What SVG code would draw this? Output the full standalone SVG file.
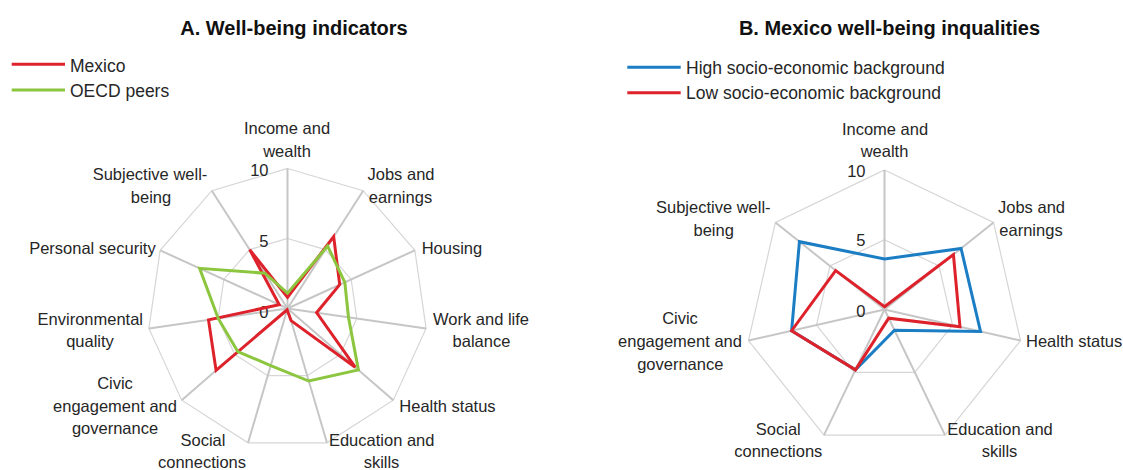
<svg xmlns="http://www.w3.org/2000/svg" width="1123" height="470" viewBox="0 0 1123 470">
<style>
  text { font-family: "Liberation Sans", Arial, sans-serif; fill: #262626; }
  .title { font-size: 20px; font-weight: bold; fill: #111; text-anchor: middle; }
  .lab { font-size: 16.5px; }
  .mid { text-anchor: middle; }
  .end { text-anchor: end; }
  .leg { font-size: 17.5px; }
  .tick { font-size: 16.5px; text-anchor: end; }
  .spoke { stroke: #c6c6c6; stroke-width: 2; fill: none; }
  .ring { stroke: #d6d6d6; stroke-width: 1.2; fill: none; }
  .s { fill: none; stroke-width: 3; stroke-linejoin: miter; }
  .red { stroke: #de222b; }
  .green { stroke: #8cc63f; }
  .blue { stroke: #1b7dc4; }
</style>
<rect width="1123" height="470" fill="#ffffff"/>

<g id="chart-a">
  <text class="title" x="294" y="35">A. Well-being indicators</text>
  <g id="legend-a">
    <line class="s red" x1="11.7" y1="64.3" x2="65" y2="64.3"/>
    <text class="leg" x="70" y="72.3">Mexico</text>
    <line class="s green" x1="11.7" y1="90" x2="65" y2="90"/>
    <text class="leg" x="70" y="96.5">OECD peers</text>
  </g>
  <g id="grid-a">
    <polygon class="ring" points="287.5,168.5 363.19,190.72 414.85,250.34 426.07,328.42 393.31,400.18 326.94,442.83 248.06,442.83 181.69,400.18 148.93,328.42 160.15,250.34 211.81,190.72"/>
    <polygon class="ring" points="287.5,238.5 325.35,249.61 351.17,279.42 356.79,318.46 340.40,354.34 307.22,375.66 267.78,375.66 234.60,354.34 218.21,318.46 223.83,279.42 249.65,249.61"/>
    <path class="spoke" d="M287.5,308.5L287.5,168.5M287.5,308.5L363.19,190.72M287.5,308.5L414.85,250.34M287.5,308.5L426.07,328.42M287.5,308.5L393.31,400.18M287.5,308.5L326.94,442.83M287.5,308.5L248.06,442.83M287.5,308.5L181.69,400.18M287.5,308.5L148.93,328.42M287.5,308.5L160.15,250.34M287.5,308.5L211.81,190.72"/>
  </g>
  <g id="ticks-a">
    <text class="tick" x="268.5" y="175.7">10</text>
    <text class="tick" x="268.5" y="246.7">5</text>
    <text class="tick" x="268.5" y="317.7">0</text>
  </g>
  <g id="series-a">
    <polygon id="mexico" class="s red" points="287.5,297.3 333.67,236.66 339.71,284.65 316.60,312.68 355.22,367.18 291.05,320.59 287.11,309.84 216.08,370.38 208.51,319.86 279.22,304.72 249.66,249.61"/>
    <polygon id="oecd-peers" class="s green" points="287.5,293.1 327.62,246.08 344.81,282.33 348.47,317.27 358.39,369.93 308.80,381.04 270.74,365.59 237.77,351.59 218.21,318.46 199.63,268.37 264.79,273.17"/>
  </g>
  <g id="labels-a" class="lab">
    <text class="lab mid" x="287" y="134">Income and<tspan x="287" dy="22.7">wealth</tspan></text>
    <text class="lab mid" x="401" y="180">Jobs and<tspan x="400.5" dy="22.7">earnings</tspan></text>
    <text class="lab" x="421.7" y="254.3">Housing</text>
    <text class="lab mid" x="481" y="325">Work and life<tspan x="481.5" dy="22">balance</tspan></text>
    <text class="lab" x="399.3" y="411.7">Health status</text>
    <text class="lab mid" x="381.7" y="445.7">Education and<tspan x="381.5" dy="22.6">skills</tspan></text>
    <text class="lab mid" x="203" y="445.7">Social<tspan x="202" dy="22.6">connections</tspan></text>
    <text class="lab mid" x="115" y="388.8">Civic<tspan x="115" dy="22.8">engagement and</tspan><tspan x="115" dy="22.8">governance</tspan></text>
    <text class="lab mid" x="90.3" y="325">Environmental<tspan x="90" dy="22">quality</tspan></text>
    <text class="lab end" x="155.7" y="254.3">Personal security</text>
    <text class="lab mid" x="150" y="180">Subjective well-<tspan x="151" dy="22.7">being</tspan></text>
  </g>
</g>

<g id="chart-b">
  <text class="title" x="889.5" y="35">B. Mexico well-being inqualities</text>
  <g id="legend-b">
    <line class="s blue" x1="627.3" y1="67.3" x2="680.7" y2="67.3"/>
    <text class="leg" x="686" y="74.3">High socio-economic background</text>
    <line class="s red" x1="627.3" y1="92.7" x2="680.7" y2="92.7"/>
    <text class="leg" x="686" y="99.3">Low socio-economic background</text>
  </g>
  <g id="grid-b">
    <polygon class="ring" points="884.5,170 993.57,222.52 1020.5,340.54 945.03,435.19 823.97,435.19 748.5,340.54 775.43,222.52"/>
    <polygon class="ring" points="884.5,239.75 939.03,266.01 952.5,325.02 914.76,372.34 854.24,372.34 816.5,325.02 829.97,266.01"/>
    <path class="spoke" d="M884.5,309.5L884.5,170M884.5,309.5L993.57,222.52M884.5,309.5L1020.5,340.54M884.5,309.5L945.03,435.19M884.5,309.5L823.97,435.19M884.5,309.5L748.5,340.54M884.5,309.5L775.43,222.52"/>
  </g>
  <g id="ticks-b">
    <text class="tick" x="865.5" y="176.7">10</text>
    <text class="tick" x="865.5" y="246">5</text>
    <text class="tick" x="865.5" y="316.7">0</text>
  </g>
  <g id="series-b">
    <polygon id="high" class="s blue" points="884.5,259.0 961.06,248.44 980.52,331.42 894.49,330.24 855.45,369.83 791.61,330.70 799.43,241.66"/>
    <polygon id="low" class="s red" points="884.5,306.71 953.43,254.53 959.98,326.73 888.68,318.18 855.45,369.83 791.61,330.70 835.64,270.53"/>
  </g>
  <g id="labels-b">
    <text class="lab mid" x="885" y="135">Income and<tspan x="884.5" dy="21.7">wealth</tspan></text>
    <text class="lab mid" x="1031.5" y="213.3">Jobs and<tspan x="1031" dy="22.7">earnings</tspan></text>
    <text class="lab" x="1026" y="347.3">Health status</text>
    <text class="lab mid" x="1000" y="435">Education and<tspan x="999.5" dy="21.7">skills</tspan></text>
    <text class="lab mid" x="778.3" y="435">Social<tspan x="778.3" dy="21.7">connections</tspan></text>
    <text class="lab mid" x="680" y="324.3">Civic<tspan x="680" dy="23">engagement and</tspan><tspan x="680.3" dy="22.7">governance</tspan></text>
    <text class="lab mid" x="713.3" y="213.3">Subjective well-<tspan x="713.7" dy="22.7">being</tspan></text>
  </g>
</g>
</svg>
